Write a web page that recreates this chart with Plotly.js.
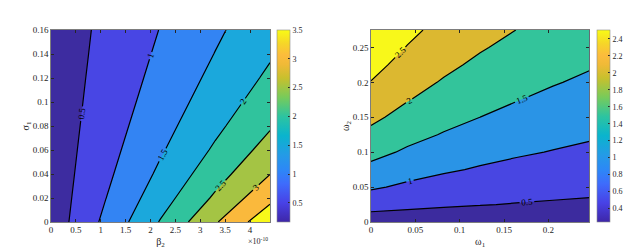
<!DOCTYPE html>
<html>
<head>
<meta charset="utf-8">
<script src="https://cdn.plot.ly/plotly-3.0.1.min.js"></script>
<style>html,body{margin:0;padding:0;background:#fff;}#chart{width:641px;height:250px;}</style>
</head>
<body>
<div id="chart"></div>
<script>
// ---- Left panel: beta_2 (x, units of 1e-10) vs sigma_1 (y) ----
const beta2 = [0, 1.1, 2.2, 3.3, 4.4];
const sigma1 = [0, 0.02, 0.04, 0.06, 0.08, 0.10, 0.12, 0.14, 0.16];
const zLeft = [
  [0.20, 1.117, 2.033, 2.950, 3.867],
  [0.20, 0.993, 1.785, 2.578, 3.370],
  [0.20, 0.898, 1.596, 2.294, 2.992],
  [0.20, 0.824, 1.447, 2.071, 2.694],
  [0.20, 0.764, 1.327, 1.891, 2.454],
  [0.20, 0.714, 1.228, 1.742, 2.256],
  [0.20, 0.673, 1.145, 1.618, 2.090],
  [0.20, 0.637, 1.075, 1.512, 1.949],
  [0.20, 0.607, 1.014, 1.420, 1.827]
];
const leftLevels = {start: 0.5, end: 3.5, size: 0.5};
const leftCbarRange = [0.17, 3.5];
const leftBandColors = ['#3d2ca0', '#4846e4', '#3384f3', '#1ba8dc', '#30c39d', '#a4c444', '#fab93c', '#f8f81a'];

// ---- Right panel: omega_1 (x) vs omega_2 (y) ----
const omega1 = [0, 0.041, 0.082, 0.123, 0.164, 0.205, 0.246];
const omega2 = [0, 0.025, 0.05, 0.075, 0.1, 0.125, 0.15, 0.175, 0.2, 0.225, 0.25, 0.275];
const zRight = [
  [0.240, 0.240, 0.240, 0.240, 0.240, 0.240, 0.240],
  [0.683, 0.604, 0.551, 0.514, 0.482, 0.455, 0.434],
  [1.060, 0.916, 0.811, 0.736, 0.680, 0.637, 0.602],
  [1.373, 1.182, 1.057, 0.958, 0.874, 0.809, 0.757],
  [1.644, 1.432, 1.264, 1.144, 1.055, 0.982, 0.912],
  [1.886, 1.640, 1.471, 1.321, 1.210, 1.123, 1.054],
  [2.102, 1.834, 1.638, 1.499, 1.365, 1.261, 1.178],
  [2.294, 2.022, 1.799, 1.637, 1.515, 1.398, 1.301],
  [2.485, 2.175, 1.960, 1.774, 1.636, 1.528, 1.425],
  [2.650, 2.327, 2.096, 1.912, 1.756, 1.635, 1.538],
  [2.813, 2.480, 2.223, 2.039, 1.876, 1.742, 1.634],
  [2.975, 2.613, 2.350, 2.148, 1.997, 1.848, 1.730]
];
const rightLevels = {start: 0.5, end: 2.5, size: 0.5};
const rightCbarRange = [0.24, 2.506];
const rightBandColors = ['#3c2b9e', '#4846e2', '#2a94e6', '#33c49b', '#dcb830', '#f8f81a'];

// parula-like continuous colorscale for the colorbars
const parula = [
  [0.00, 'rgb(62,38,168)'], [0.10, 'rgb(72,66,230)'], [0.20, 'rgb(62,108,252)'],
  [0.27, 'rgb(45,135,247)'], [0.35, 'rgb(36,155,230)'], [0.45, 'rgb(10,180,205)'],
  [0.55, 'rgb(45,196,160)'], [0.65, 'rgb(120,203,90)'], [0.75, 'rgb(200,192,45)'],
  [0.82, 'rgb(240,186,55)'], [0.87, 'rgb(252,188,60)'], [0.93, 'rgb(246,214,40)'],
  [1.00, 'rgb(249,251,21)']
];

function bandScale(colors) {
  const n = colors.length - 1;
  return colors.map((c, i) => [i / n, c]);
}

const FONT = '"Liberation Serif", serif';
const AX = '#262626';

function contourTrace(x, y, z, lv, colors, xa, ya) {
  return {
    type: 'contour', x: x, y: y, z: z, xaxis: xa, yaxis: ya,
    autocontour: false,
    contours: {start: lv.start, end: lv.end, size: lv.size, coloring: 'fill',
      showlines: true, showlabels: true,
      labelfont: {family: FONT, size: 9, color: '#000'}},
    line: {color: '#000', width: 1.2, smoothing: 0},
    colorscale: bandScale(colors),
    showscale: false, hoverinfo: 'skip'
  };
}

function cbarTrace(x, y, range, xa, ya, cbx, dtick, len) {
  return {
    type: 'scatter', mode: 'markers', x: [x[0]], y: [y[0]], xaxis: xa, yaxis: ya,
    hoverinfo: 'skip', showlegend: false,
    marker: {size: 1, opacity: 0, color: range, cmin: range[0], cmax: range[1],
      colorscale: parula, showscale: true,
      colorbar: {x: cbx, xanchor: 'left', xpad: 0, y: 0.112, yanchor: 'bottom', ypad: 0,
        len: len, lenmode: 'fraction', thickness: 13, thicknessmode: 'pixels',
        outlinewidth: 0.6, outlinecolor: '#8c8c8c',
        ticks: 'inside', ticklen: 2, tickcolor: AX, dtick: dtick, tick0: 0,
        tickfont: {family: FONT, size: 8, color: AX}}}
  };
}

function axis(dom, range, dtick, anchor, titleText, standoff) {
  return {
    domain: dom, range: range, anchor: anchor, dtick: dtick, tick0: 0,
    showgrid: false, zeroline: false, showline: true, mirror: 'ticks',
    linecolor: AX, linewidth: 0.6, ticks: 'inside', ticklen: 3, tickcolor: AX,
    tickfont: {family: FONT, size: 9, color: AX},
    title: {text: titleText, font: {family: FONT, size: 10, color: AX}, standoff: standoff}
  };
}

const data = [
  contourTrace(beta2, sigma1, zLeft, leftLevels, leftBandColors, 'x', 'y'),
  contourTrace(omega1, omega2, zRight, rightLevels, rightBandColors, 'x2', 'y2'),
  cbarTrace(beta2, sigma1, leftCbarRange, 'x', 'y', 277 / 641, 0.5, 0.768),
  cbarTrace(omega1, omega2, rightCbarRange, 'x2', 'y2', 597 / 641, 0.2, 0.768)
];

const layout = {
  width: 641, height: 250,
  margin: {l: 0, r: 0, t: 0, b: 0},
  paper_bgcolor: '#fff', plot_bgcolor: '#fff',
  showlegend: false,
  xaxis: axis([51 / 641, 270 / 641], [beta2[0], beta2[beta2.length - 1]], 0.5, 'y', 'β<sub>2</sub>', 3),
  yaxis: axis([0.112, 0.88], [sigma1[0], sigma1[sigma1.length - 1]], 0.02, 'x', 'σ<sub>1</sub>', 1),
  xaxis2: axis([371 / 641, 589.3 / 641], [omega1[0], omega1[omega1.length - 1]], 0.05, 'y2', 'ω<sub>1</sub>', 3),
  yaxis2: axis([0.112, 0.88], [omega2[0], omega2[omega2.length - 1]], 0.05, 'x2', 'ω<sub>2</sub>', 1),
  annotations: [{
    xref: 'paper', yref: 'paper', x: 270 / 641, y: 0.035, xanchor: 'right', yanchor: 'middle',
    text: '×10<sup>-10</sup>', showarrow: false, font: {family: FONT, size: 8, color: AX}
  }]
};

Plotly.newPlot('chart', data, layout, {staticPlot: true, displayModeBar: false});
</script>
</body>
</html>
